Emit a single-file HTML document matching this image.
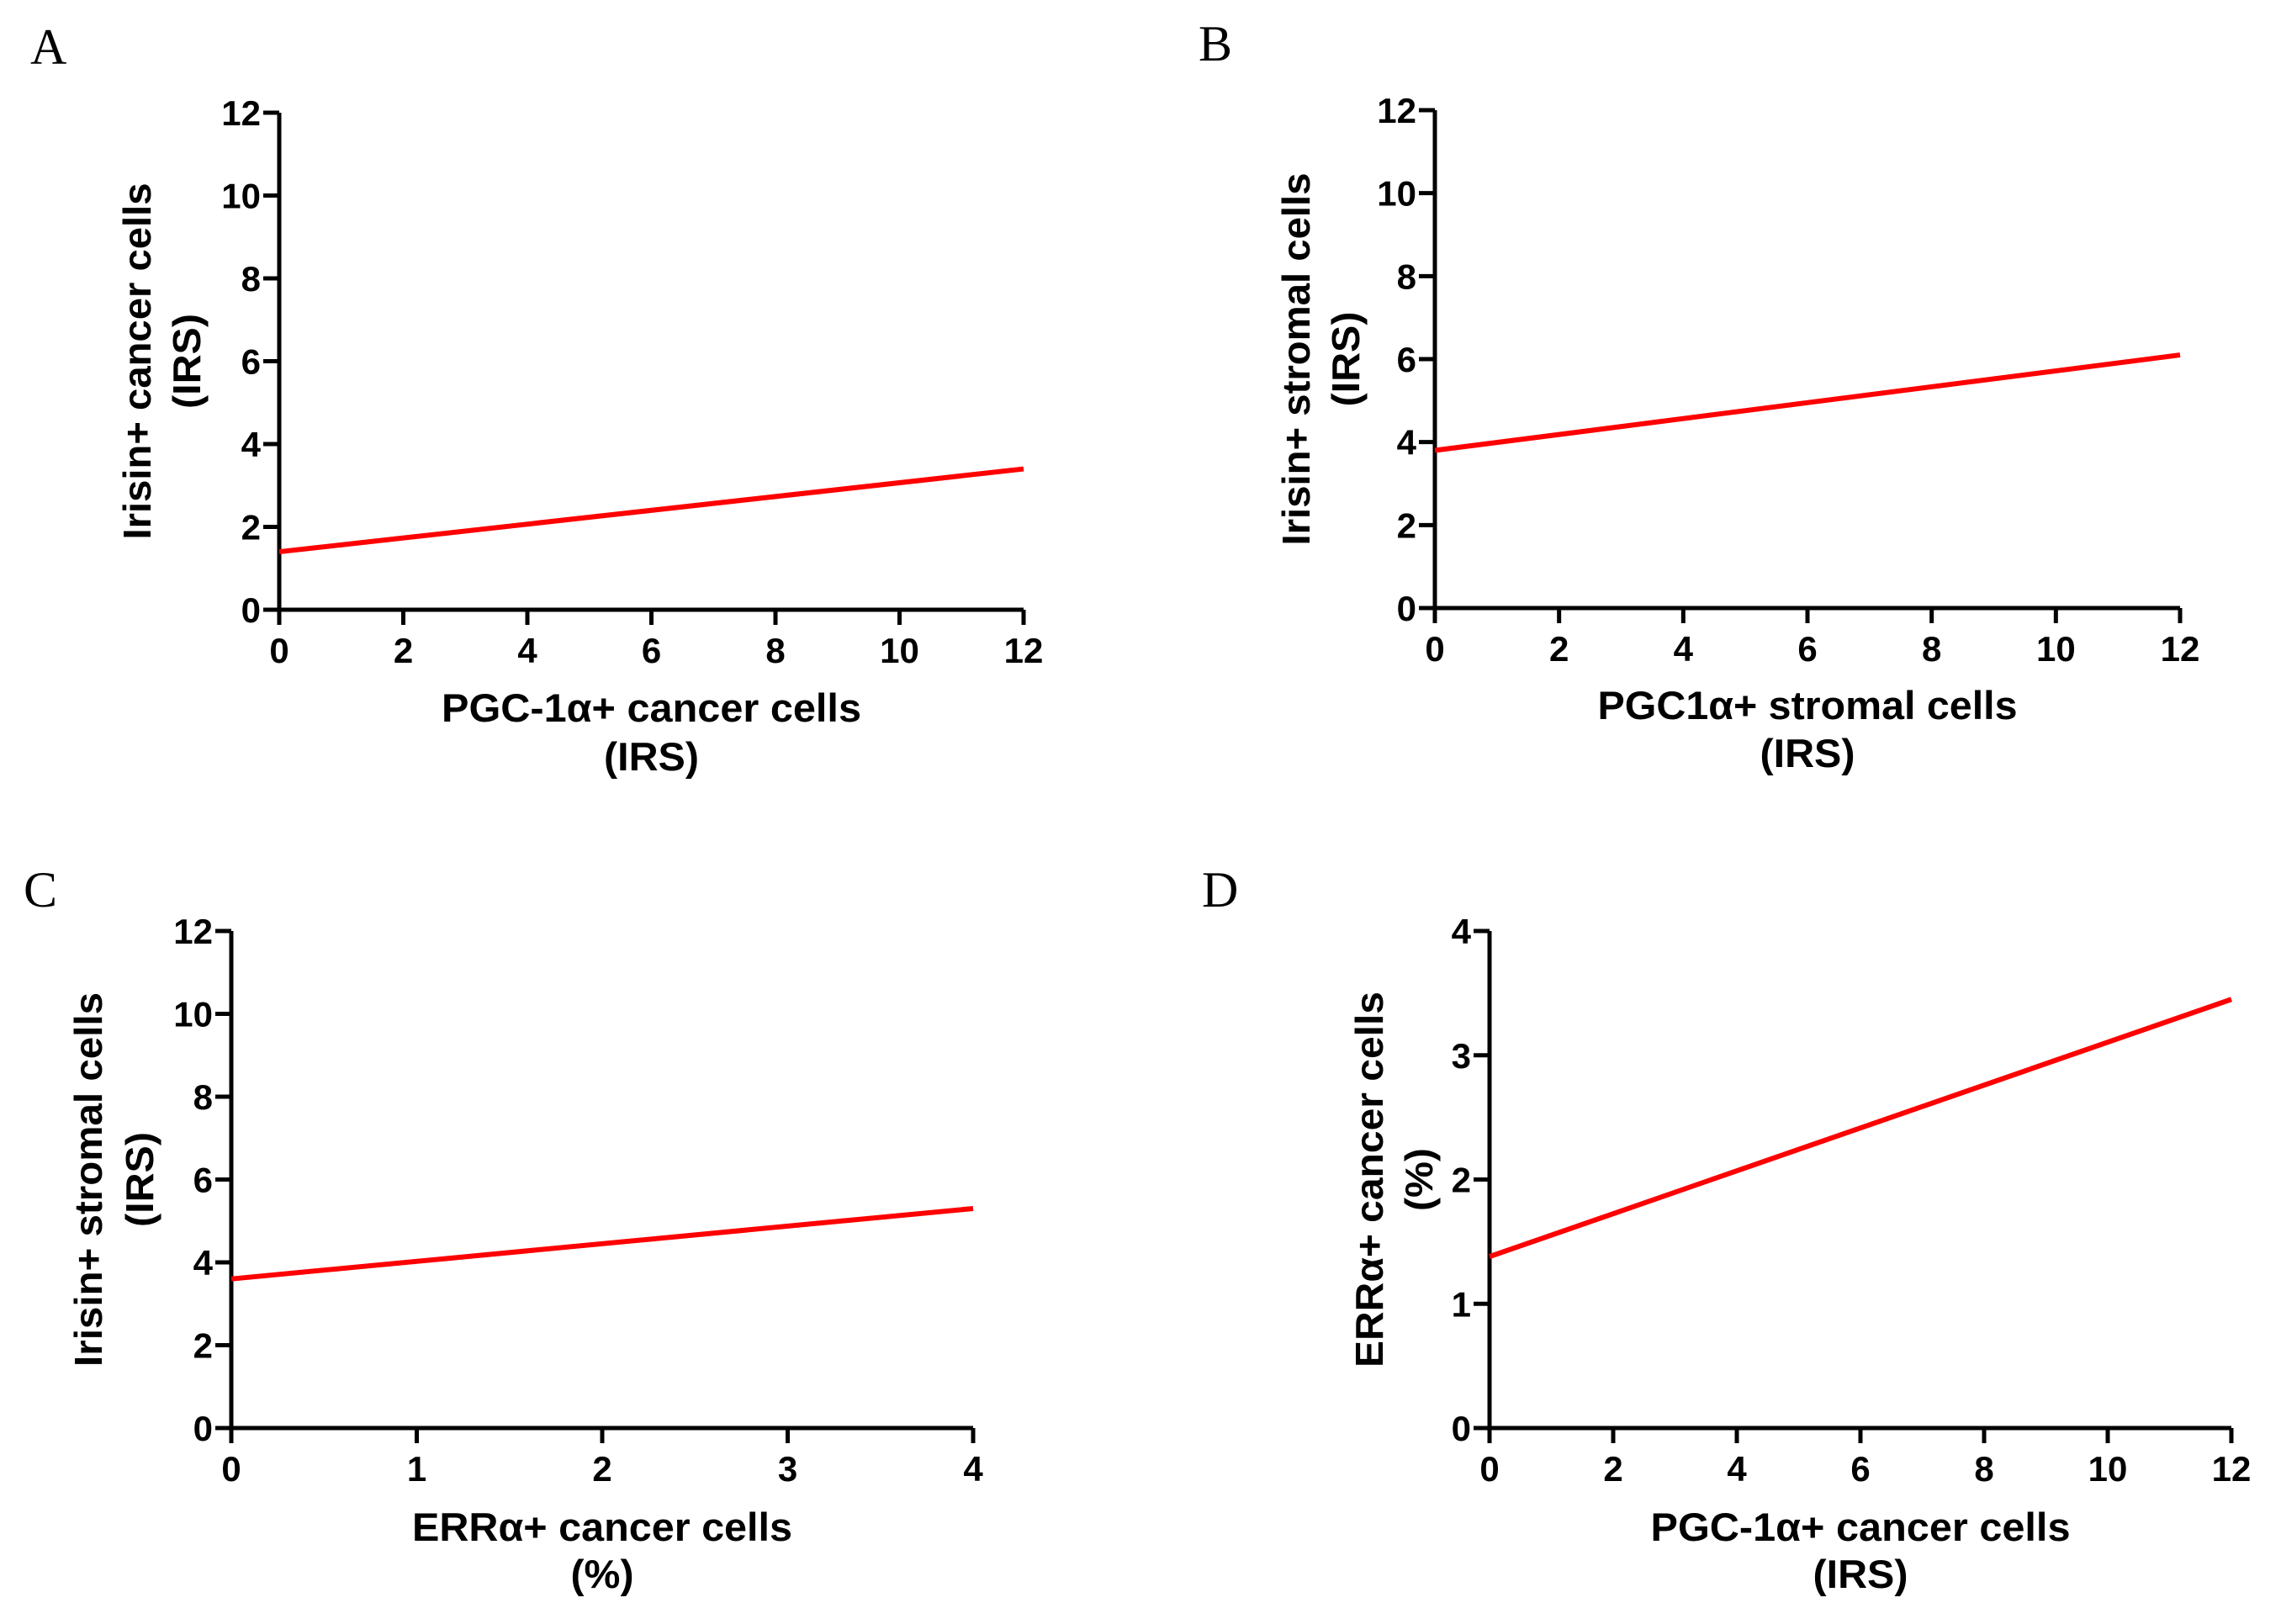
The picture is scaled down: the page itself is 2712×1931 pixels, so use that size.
<!DOCTYPE html>
<html><head><meta charset="utf-8"><style>
html,body{margin:0;padding:0;background:#fff;}
svg{display:block;}
text{font-family:"Liberation Sans",Arial,sans-serif;font-weight:bold;fill:#000;}
.pl{font-family:"Liberation Serif","Times New Roman",serif;font-weight:normal;font-size:60px;}
</style></head>
<body>
<svg id="fig" width="2712" height="1931" viewBox="0 0 2712 1931" xmlns="http://www.w3.org/2000/svg"></svg>
<script>
// Panel data (regression line endpoints in data units)
const panelIds = ["A","B","C","D"];
const xTicksA = [0,2,4,6,8,10,12];
const yTicksA = [0,2,4,6,8,10,12];
const lineA = [[0,1.4],[12,3.4]];
const xTicksB = [0,2,4,6,8,10,12];
const yTicksB = [0,2,4,6,8,10,12];
const lineB = [[0,3.8],[12,6.1]];
const xTicksC = [0,1,2,3,4];
const yTicksC = [0,2,4,6,8,10,12];
const lineC = [[0,3.6],[4,5.3]];
const xTicksD = [0,2,4,6,8,10,12];
const yTicksD = [0,1,2,3,4];
const lineD = [[0,1.38],[12,3.45]];
const xTitles = [["PGC-1\u03b1+ cancer cells","(IRS)"],["PGC1\u03b1+ stromal cells","(IRS)"],["ERR\u03b1+ cancer cells","(%)"],["PGC-1\u03b1+ cancer cells","(IRS)"]];
const yTitles = [["Irisin+ cancer cells","(IRS)"],["Irisin+ stromal cells","(IRS)"],["Irisin+ stromal cells","(IRS)"],["ERR\u03b1+ cancer cells","(%)"]];

const NS="http://www.w3.org/2000/svg";
const svg=document.getElementById('fig');
function mk(tag,attrs,parent){const e=document.createElementNS(NS,tag);for(const k in attrs)e.setAttribute(k,attrs[k]);(parent||svg).appendChild(e);return e;}

const layouts=[
 {x0:332,x1:1217,yTop:134,yBot:725,lab:[36,76],xt:[841,899],xtw:[499,113],yt:[162,221],ytw:[424,113]},
 {x0:1706,x1:2592,yTop:131,yBot:723,lab:[1425,72],xt:[838,895],xtw:[499,113],yt:[1540,1599],ytw:[443,113]},
 {x0:275,x1:1157,yTop:1107,yBot:1698,lab:[28,1078],xt:[1815,1871],xtw:[452,75],yt:[104,165],ytw:[445,113]},
 {x0:1771,x1:2653,yTop:1107,yBot:1698,lab:[1429,1078],xt:[1815,1871],xtw:[499,113],yt:[1627,1686],ytw:[447,75]}
];
const xT=[xTicksA,xTicksB,xTicksC,xTicksD], yT=[yTicksA,yTicksB,yTicksC,yTicksD], lines=[lineA,lineB,lineC,lineD];

panelIds.forEach((id,i)=>{
 const L=layouts[i];
 const g=mk('g',{});
 
 
 const xs=xT[i], ys=yT[i];
 const xmin=xs[0],xmax=xs[xs.length-1],ymin=ys[0],ymax=ys[ys.length-1];
 const sx=v=>L.x0+(v-xmin)/(xmax-xmin)*(L.x1-L.x0);
 const sy=v=>L.yBot-(v-ymin)/(ymax-ymin)*(L.yBot-L.yTop);
 const lab=mk('text',{x:L.lab[0],y:L.lab[1],class:'pl'},g);lab.textContent=id;
 
 
 const ax=mk('path',{d:`M${L.x0} ${L.yTop}V${L.yBot}H${L.x1}`,stroke:'#000','stroke-width':5,fill:'none'},g);
 
 
 ys.forEach(v=>{
  const y=sy(v);
  mk('line',{x1:L.x0-19,x2:L.x0,y1:y,y2:y,stroke:'#000','stroke-width':5},g);
  const t=mk('text',{x:L.x0-22,y:y+15,'text-anchor':'end','font-size':42},g);
  t.textContent=v;
  
  
 });
 xs.forEach(v=>{
  const x=sx(v);
  mk('line',{x1:x,x2:x,y1:L.yBot,y2:L.yBot+18,stroke:'#000','stroke-width':5},g);
  const t=mk('text',{x:x,y:L.yBot+63,'text-anchor':'middle','font-size':42},g);
  t.textContent=v;
  
  
 });
 const ln=lines[i];
 const rl=mk('line',{x1:sx(ln[0][0]),y1:sy(ln[0][1]),x2:sx(ln[1][0]),y2:sy(ln[1][1]),stroke:'#ff0000','stroke-width':6},g);
 
 
 const cx=(L.x0+L.x1)/2;
 xTitles[i].forEach((s,k)=>{
  const t=mk('text',{x:cx,y:L.xt[k]+17,'text-anchor':'middle','font-size':47,textLength:L.xtw[k],lengthAdjust:'spacingAndGlyphs'},g);
  t.textContent=s;
  
  
 });
 const cy=(L.yTop+L.yBot)/2;
 yTitles[i].forEach((s,k)=>{
  const x=L.yt[k]+17;
  const t=mk('text',{x:x,y:cy,'text-anchor':'middle','font-size':46,textLength:L.ytw[k],lengthAdjust:'spacingAndGlyphs',transform:`rotate(-90 ${x} ${cy})`},g);
  t.textContent=s;
  
  
 });
});
</script>
</body></html>
